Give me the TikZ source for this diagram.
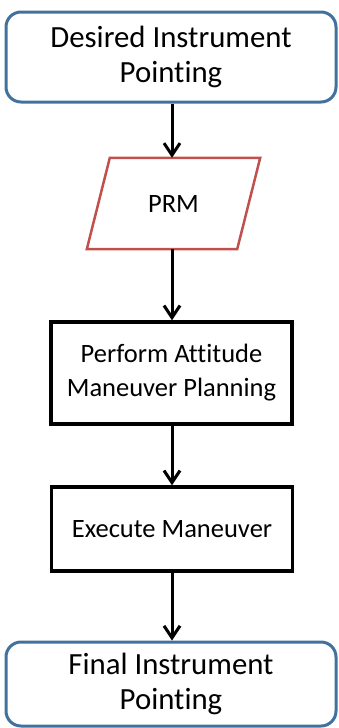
\documentclass[tikz,border=0pt]{standalone}
\usepackage{fontspec}
\setmainfont{Carlito}[Ligatures=NoCommon]
\usetikzlibrary{arrows.meta}
\definecolor{termblue}{HTML}{41719C}
\definecolor{datared}{HTML}{C0504D}
\tikzset{
  terminal/.style={draw=termblue, line width=3pt, rounded corners=15pt,
    minimum width=330pt, minimum height=#1, align=center, inner sep=0pt,
    font=\fontsize{30.8}{35}\selectfont},
  datatext/.style={minimum width=150pt, minimum height=91pt, inner sep=0pt,
    font=\fontsize{26.5}{33}\selectfont},
  dataedge/.style={draw=datared, line width=2.5pt, line join=miter},
  procbox/.style={draw=black, line width=3.5pt, minimum width=241pt,
    minimum height=#1, align=center, inner sep=0pt,
    font=\fontsize{26.5}{34}\selectfont},
  flow/.style={line width=3pt, -{Straight Barb[length=12pt,width=16pt]}}
}
\begin{document}
\begin{tikzpicture}[x=1pt,y=-1pt]
  \useasboundingbox (0,0) rectangle (338,728);
  \node[terminal=90pt] (start) at (171,57) {Desired Instrument\\Pointing};
  \node[datatext] (prm) at (173.5,203.5) {PRM};
  % slanted outline of the PRM data box
  \draw[dataedge] ([xshift=11.5pt]prm.north west) -- ([xshift=11.5pt]prm.north east)
    -- ([xshift=-11.5pt]prm.south east) -- ([xshift=-11.5pt]prm.south west) -- cycle;
  \node[procbox=102pt] (plan) at (171.5,373) {Perform Attitude\\Maneuver Planning};
  \node[procbox=84pt] (exec) at (172,529) {Execute Maneuver};
  \node[terminal=84pt] (final) at (171,684) {Final Instrument\\Pointing};
  \draw[flow] (start.south -| 172,0) -- (prm.north -| 172,0);
  \draw[flow] (prm.south -| 172,0) -- (plan.north -| 172,0);
  \draw[flow] (plan.south -| 172,0) -- (exec.north -| 172,0);
  \draw[flow] (exec.south -| 172,0) -- (final.north -| 172,0);
\end{tikzpicture}
\end{document}
